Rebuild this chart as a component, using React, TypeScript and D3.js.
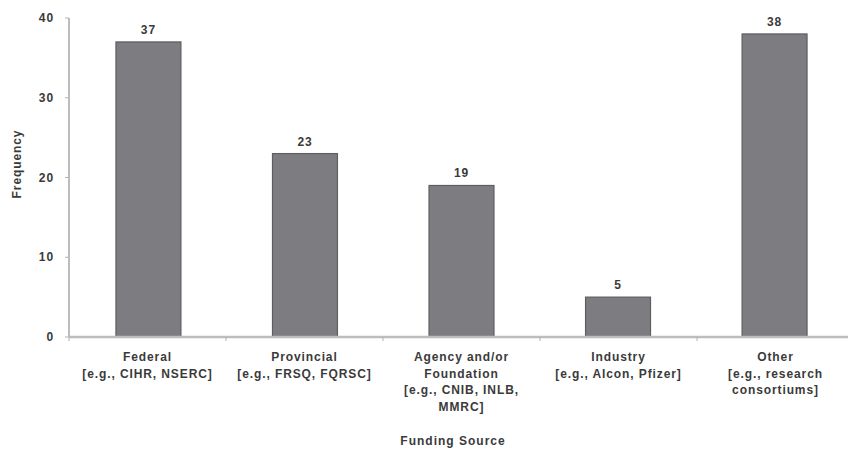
import React from "react";
import * as d3 from "d3";

const categories: string[][] = [
  ["Federal", "[e.g., CIHR, NSERC]"],
  ["Provincial", "[e.g., FRSQ, FQRSC]"],
  ["Agency and/or", "Foundation", "[e.g., CNIB, INLB,", "MMRC]"],
  ["Industry", "[e.g., Alcon, Pfizer]"],
  ["Other", "[e.g., research", "consortiums]"],
];
const values: number[] = [37, 23, 19, 5, 38];
const yTicks: number[] = [0, 10, 20, 30, 40];
const yTitle = "Frequency";
const xTitle = "Funding Source";

const W = 848;
const H = 450;
const left = 69;
const bandW = 157;
const top = 18;
const bottom = 337;

export default function App() {
  const x = d3
    .scaleBand<number>()
    .domain(values.map((_, i) => i))
    .range([left, left + bandW * values.length])
    .paddingInner(0.585)
    .paddingOuter(0.3);
  const y = d3.scaleLinear().domain([0, 40]).range([bottom, top]);
  const font = "'Liberation Sans', Arial, sans-serif";
  const txt = "#3a3a3a";
  const ls = 0.9;
  return (
    <svg
      width={W}
      height={H}
      style={{ position: "absolute", left: 0, top: 0, background: "#fff" }}
      fontFamily={font}
    >
      {/* y ticks */}
      {yTicks.map((t) => (
        <g key={t}>
          <line x1={left - 4} x2={left} y1={y(t)} y2={y(t)} stroke="#b0b0b0" strokeWidth={1} />
          <text
            x={left - 15}
            y={y(t)}
            dy="0.35em"
            textAnchor="end"
            fontSize={12}
            fontWeight="bold"
            letterSpacing={ls}
            fill={txt}
          >
            {t}
          </text>
        </g>
      ))}
      {/* bars */}
      {values.map((v, i) => (
        <g key={i}>
          <rect
            x={x(i)!}
            y={y(v)}
            width={x.bandwidth()}
            height={y(0) - y(v)}
            fill="#7d7d81"
            stroke="#5e5e62"
            strokeWidth={1.2}
          />
          <text
            x={x(i)! + x.bandwidth() / 2}
            y={y(v) - 8}
            textAnchor="middle"
            fontSize={12}
            fontWeight="bold"
            letterSpacing={ls}
            fill={txt}
          >
            {v}
          </text>
        </g>
      ))}
      {/* axes */}
      <line x1={left} x2={left} y1={top} y2={bottom} stroke="#bdbdbd" strokeWidth={2} />
      <line x1={left} x2={left + bandW * values.length} y1={bottom} y2={bottom} stroke="#bdbdbd" strokeWidth={2.5} />
      {values.map((_, i) => (
        <line
          key={i}
          x1={left + bandW * i}
          x2={left + bandW * i}
          y1={bottom}
          y2={bottom + 4}
          stroke="#b0b0b0"
          strokeWidth={1}
        />
      ))}
      {/* category labels */}
      {categories.map((lines, i) => (
        <text
          key={i}
          x={left + bandW * i + bandW / 2}
          y={361}
          textAnchor="middle"
          fontSize={12}
          fontWeight="bold"
          letterSpacing={ls}
          fill={txt}
        >
          {lines.map((l, j) => (
            <tspan key={j} x={left + bandW * i + bandW / 2} dy={j === 0 ? 0 : 16.5}>
              {l}
            </tspan>
          ))}
        </text>
      ))}
      {/* axis titles */}
      <text
        transform={`translate(21,164) rotate(-90)`}
        textAnchor="middle"
        fontSize={12}
        fontWeight="bold"
        letterSpacing={ls}
        fill={txt}
      >
        {yTitle}
      </text>
      <text
        x={453}
        y={445}
        textAnchor="middle"
        fontSize={12}
        fontWeight="bold"
        letterSpacing={1}
        fill={txt}
      >
        {xTitle}
      </text>
    </svg>
  );
}
